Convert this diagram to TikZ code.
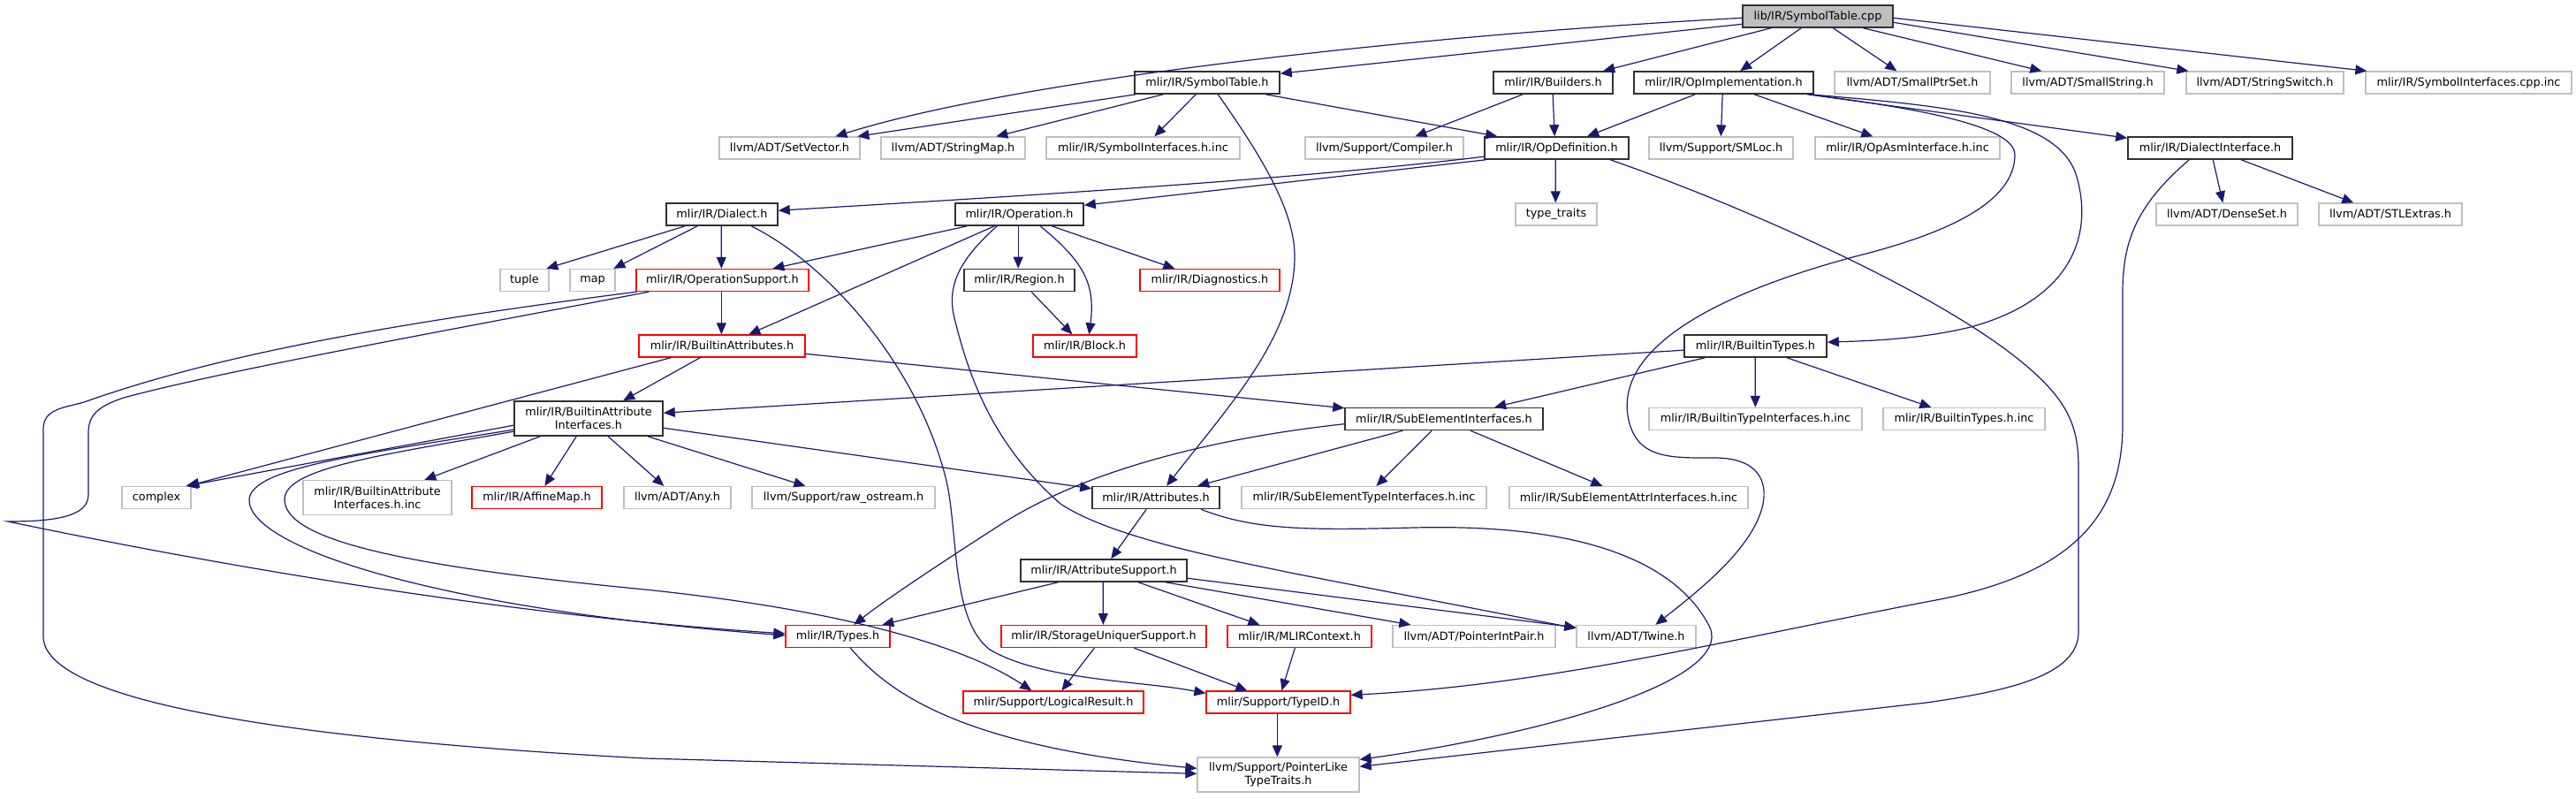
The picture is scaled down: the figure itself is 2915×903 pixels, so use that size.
\documentclass[tikz,border=0pt]{standalone}
\usepackage{fontspec}
\setmainfont{DejaVu Sans}
\usetikzlibrary{arrows.meta}
\definecolor{edgec}{HTML}{191970}
\definecolor{extc}{HTML}{BFBFBF}
\definecolor{docc}{HTML}{303030}
\definecolor{truncc}{HTML}{FF0000}
\begin{document}
\begin{tikzpicture}[x=1pt,y=-1pt,
  font=\fontsize{12.8}{15}\selectfont,
  box/.style={inner sep=0pt, align=center, text=black, minimum height=25pt},
  doc/.style={box, draw=docc, line width=1.6pt},
  ext/.style={box, draw=extc, line width=1.3pt},
  trunc/.style={box, draw=truncc, line width=1.3pt},
  rootnode/.style={box, draw=docc, line width=1.4pt, fill=extc},
  tall/.style={minimum height=39pt},
  e/.style={draw=edgec, line width=1.2pt, -{Triangle[length=13pt,width=11pt]}, fill=none}]
\useasboundingbox (0,0) rectangle (2915,903);
% row 0
\node[rootnode, minimum width=170pt] (root) at (2057,18.5) {lib/IR/SymbolTable.cpp};
% row 1
\node[doc, minimum width=164pt] (sth) at (1366,93.5) {mlir/IR/SymbolTable.h};
\node[doc, minimum width=135pt] (bld) at (1757.5,93.5) {mlir/IR/Builders.h};
\node[doc, minimum width=203pt] (opi) at (1950.5,93.5) {mlir/IR/OpImplementation.h};
\node[ext, minimum width=176pt] (sps) at (2164,93.5) {llvm/ADT/SmallPtrSet.h};
\node[ext, minimum width=173pt] (sst) at (2362.5,93.5) {llvm/ADT/SmallString.h};
\node[ext, minimum width=178pt] (ssw) at (2563,93.5) {llvm/ADT/StringSwitch.h};
\node[ext, minimum width=233pt] (sic) at (2793.5,93.5) {mlir/IR/SymbolInterfaces.cpp.inc};
% row 2
\node[ext, minimum width=159pt] (setv) at (893.5,167.5) {llvm/ADT/SetVector.h};
\node[ext, minimum width=163pt] (smap) at (1078.5,167.5) {llvm/ADT/StringMap.h};
\node[ext, minimum width=219pt] (sihi) at (1293.5,167.5) {mlir/IR/SymbolInterfaces.h.inc};
\node[ext, minimum width=179pt] (comp) at (1566.5,167.5) {llvm/Support/Compiler.h};
\node[doc, minimum width=163pt] (opd) at (1761.5,167.5) {mlir/IR/OpDefinition.h};
\node[ext, minimum width=163pt] (smloc) at (1947.5,167.5) {llvm/Support/SMLoc.h};
\node[ext, minimum width=209pt] (oai) at (2158.5,167.5) {mlir/IR/OpAsmInterface.h.inc};
\node[doc, minimum width=186pt] (dif) at (2501,167.5) {mlir/IR/DialectInterface.h};
% row 3
\node[doc, minimum width=126pt] (dia) at (817,242.5) {mlir/IR/Dialect.h};
\node[doc, minimum width=145pt] (op) at (1153.5,242.5) {mlir/IR/Operation.h};
\node[ext, minimum width=92pt] (tt) at (1761,242.5) {type\_traits};
\node[ext, minimum width=160pt] (dset) at (2520,242.5) {llvm/ADT/DenseSet.h};
\node[ext, minimum width=162pt] (stl) at (2705,242.5) {llvm/ADT/STLExtras.h};
% row 4
\node[ext, minimum width=55pt] (tup) at (593.5,317) {tuple};
\node[ext, minimum width=51pt] (map) at (670.5,317) {map};
\node[trunc, minimum width=195pt] (ops) at (817.5,317) {mlir/IR/OperationSupport.h};
\node[doc, minimum width=125pt] (reg) at (1153.5,317) {mlir/IR/Region.h};
\node[trunc, minimum width=158pt] (diag) at (1369,317) {mlir/IR/Diagnostics.h};
% row 5
\node[trunc, minimum width=188pt] (ba) at (817,391.5) {mlir/IR/BuiltinAttributes.h};
\node[trunc, minimum width=117pt] (blk) at (1227.5,391.5) {mlir/IR/Block.h};
\node[doc, minimum width=161pt] (bt) at (1986.5,391.5) {mlir/IR/BuiltinTypes.h};
% row 6
\node[doc, tall, minimum width=168pt] (bai) at (666,473.5) {mlir/IR/BuiltinAttribute\\Interfaces.h};
\node[doc, minimum width=224pt] (sei) at (1634,474) {mlir/IR/SubElementInterfaces.h};
\node[ext, minimum width=241pt] (btii) at (1986.5,474) {mlir/IR/BuiltinTypeInterfaces.h.inc};
\node[ext, minimum width=183pt] (bti) at (2222.5,474) {mlir/IR/BuiltinTypes.h.inc};
% row 7
\node[ext, minimum width=78pt] (cplx) at (177,563) {complex};
\node[ext, tall, minimum width=168pt] (baii) at (427,563) {mlir/IR/BuiltinAttribute\\Interfaces.h.inc};
\node[trunc, minimum width=147pt] (amap) at (607.5,563) {mlir/IR/AffineMap.h};
\node[ext, minimum width=121pt] (any) at (766.5,563) {llvm/ADT/Any.h};
\node[ext, minimum width=207pt] (rawo) at (954.5,563) {llvm/Support/raw\_ostream.h};
\node[doc, minimum width=144pt] (attr) at (1308,563) {mlir/IR/Attributes.h};
\node[ext, minimum width=277pt] (seti) at (1543.5,563) {mlir/IR/SubElementTypeInterfaces.h.inc};
\node[ext, minimum width=270pt] (seai) at (1843,563) {mlir/IR/SubElementAttrInterfaces.h.inc};
% row 8
\node[doc, minimum width=188pt] (as) at (1249,645.5) {mlir/IR/AttributeSupport.h};
% row 9
\node[trunc, minimum width=118pt] (types) at (948,720) {mlir/IR/Types.h};
\node[trunc, minimum width=232pt] (sus) at (1249,720) {mlir/IR/StorageUniquerSupport.h};
\node[trunc, minimum width=163pt] (ctx) at (1470.5,720) {mlir/IR/MLIRContext.h};
\node[ext, minimum width=184pt] (pip) at (1668,720) {llvm/ADT/PointerIntPair.h};
\node[ext, minimum width=135pt] (twine) at (1851.5,720) {llvm/ADT/Twine.h};
% row 10
\node[trunc, minimum width=204pt] (lr) at (1192,794.5) {mlir/Support/LogicalResult.h};
\node[trunc, minimum width=163pt] (tid) at (1446.5,794.5) {mlir/Support/TypeID.h};
% row 11
\node[ext, tall, minimum width=183pt] (plt) at (1446.5,876.5) {llvm/Support/PointerLike\\TypeTraits.h};

% ---- edges from root
\draw[e] ([yshift=-15pt]root.north west) .. controls (1600,40) and (1150,90) .. ([xshift=132pt]setv.north west);
\draw[e] ([yshift=-22pt]root.north west) -- ([yshift=-3pt]sth.north east);
\draw[e] ([xshift=33pt]root.south west) -- ([xshift=125pt]bld.north west);
\draw[e] ([xshift=67pt]root.south west) -- ([xshift=121pt]opi.north west);
\draw[e] ([xshift=103pt]root.south west) -- ([xshift=71pt]sps.north west);
\draw[e] ([xshift=137pt]root.south west) -- ([xshift=35pt]sst.north west);
\draw[e] ([yshift=-20pt]root.north east) -- ([xshift=3pt]ssw.north west);
\draw[e] ([yshift=-15pt]root.north east) -- ([xshift=2pt]sic.north west);
% ---- SymbolTable.h
\draw[e] ([xshift=2pt]sth.south west) -- ([xshift=157pt]setv.north west);
\draw[e] ([xshift=33pt]sth.south west) -- ([xshift=131pt]smap.north west);
\draw[e] ([xshift=70pt]sth.south west) -- ([xshift=123pt]sihi.north west);
\draw[e] ([xshift=149pt]sth.south west) -- ([xshift=15pt]opd.north west);
\draw[e] ([xshift=95pt]sth.south west) .. controls (1430,180) and (1465,240) .. (1465,290) .. controls (1465,380) and (1390,460) .. ([xshift=85pt]attr.north west);
% ---- Builders.h
\draw[e] ([xshift=34pt]bld.south west) -- ([xshift=125pt]comp.north west);
\draw[e] ([xshift=68pt]bld.south west) -- ([xshift=80pt]opd.north west);
% ---- OpImplementation.h
\draw[e] ([xshift=70pt]opi.south west) -- ([xshift=117pt]opd.north west);
\draw[e] ([xshift=101pt]opi.south west) -- ([xshift=82pt]smloc.north west);
\draw[e] ([xshift=137pt]opi.south west) -- ([xshift=66pt]oai.north west);
\draw[e] ([xshift=197pt]opi.south west) -- ([yshift=-2pt]dif.north west);
\draw[e] ([xshift=200pt]opi.south west) .. controls (2200,120) and (2330,130) .. (2350,200) .. controls (2370,270) and (2340,340) .. (2230,370) .. controls (2170,385) and (2100,386) .. ([yshift=-9pt]bt.north east);
\draw[e] ([xshift=199pt]opi.south west) .. controls (2150,120) and (2280,140) .. (2280,175) .. controls (2280,230) and (2200,265) .. (2100,290) .. controls (1950,330) and (1830,390) .. (1842,470) .. controls (1850,520) and (1890,518) .. (1940,518) .. controls (1990,518) and (2000,545) .. (1995,570) .. controls (1985,620) and (1920,670) .. ([xshift=90pt]twine.north west);
% ---- OpDefinition.h
\draw[e] ([yshift=-23pt]opd.north west) .. controls (1450,205) and (1100,225) .. ([yshift=-9pt]dia.north east);
\draw[e] ([xshift=2pt]opd.south west) -- ([yshift=-3pt]op.north east);
\draw[e] ([xshift=81pt]opd.south west) -- ([xshift=46pt]tt.north west);
\draw[e] ([xshift=143pt]opd.south west) .. controls (1950,225) and (2200,330) .. (2300,420) .. controls (2345,460) and (2352,490) .. (2352,530) -- (2352,715) .. controls (2352,765) and (2270,782) .. (2180,795) -- ([yshift=-11pt]plt.north east);
% ---- DialectInterface.h
\draw[e] ([xshift=97pt]dif.south west) -- ([xshift=76pt]dset.north west);
\draw[e] ([xshift=129pt]dif.south west) -- ([xshift=40pt]stl.north west);
\draw[e] ([xshift=70pt]dif.south west) .. controls (2420,230) and (2402,270) .. (2402,330) -- (2402,480) .. controls (2402,580) and (2350,650) .. (2185,680) .. controls (1950,725) and (1750,775) .. ([yshift=-5pt]tid.north east);
% ---- Dialect.h
\draw[e] ([xshift=22pt]dia.south west) -- ([xshift=53pt]tup.north west);
\draw[e] ([xshift=36pt]dia.south west) -- ([xshift=50pt]map.north west);
\draw[e] ([xshift=63pt]dia.south west) -- ([xshift=97pt]ops.north west);
\draw[e] ([xshift=97pt]dia.south west) .. controls (930,295) and (1035,405) .. (1070,540) .. controls (1085,600) and (1075,700) .. (1120,735) .. controls (1180,770) and (1290,770) .. ([yshift=-3pt]tid.north west);
% ---- Operation.h
\draw[e] ([xshift=14pt]op.south west) -- ([xshift=155pt]ops.north west);
\draw[e] ([xshift=45pt]op.south west) -- ([xshift=125pt]ba.north west);
\draw[e] ([xshift=48pt]op.south west) .. controls (1090,290) and (1070,320) .. (1080,360) .. controls (1095,420) and (1120,500) .. (1200,570) .. controls (1260,610) and (1400,635) .. (1460,648) -- ([yshift=-4pt]twine.north west);
\draw[e] ([xshift=72pt]op.south west) -- ([xshift=62pt]reg.north west);
\draw[e] ([xshift=97pt]op.south west) .. controls (1225,295) and (1240,320) .. ([xshift=64pt]blk.north west);
\draw[e] ([xshift=110pt]op.south west) -- ([xshift=40pt]diag.north west);
% ---- Region.h
\draw[e] ([xshift=77pt]reg.south west) -- ([xshift=45pt]blk.north west);
% ---- OperationSupport.h
\draw[e] ([xshift=97pt]ops.south west) -- ([xshift=94pt]ba.north west);
\draw[e] ([xshift=1pt]ops.south west) .. controls (450,365) and (250,400) .. (95,455) .. controls (75,461) and (49,462) .. (49,485) -- (49,720) .. controls (49,790) and (300,835) .. (730,858) -- ([yshift=-19pt]plt.north west);
\draw[e] ([xshift=15pt]ops.south west) .. controls (500,375) and (250,420) .. (140,450) .. controls (110,460) and (100,470) .. (100,490) -- (100,560) .. controls (100,585) and (60,590) .. (9,590) .. controls (200,630) and (550,695) .. ([yshift=-10pt]types.north west);
% ---- BuiltinAttributeInterfaces.h
\draw[e] ([yshift=-28pt]bai.north west) -- ([xshift=73pt]cplx.north west);
\draw[e] ([xshift=30pt]bai.south west) -- ([xshift=138pt]baii.north west);
\draw[e] ([xshift=71pt]bai.south west) -- ([xshift=83pt]amap.north west);
\draw[e] ([xshift=107pt]bai.south west) -- ([xshift=46pt]any.north west);
\draw[e] ([xshift=152pt]bai.south west) -- ([xshift=61pt]rawo.north west);
\draw[e] ([yshift=-31pt]bai.north east) -- ([yshift=-3pt]attr.north west);
\draw[e] ([yshift=-33pt]bai.north west) .. controls (400,515) and (285,530) .. (282,565) .. controls (280,620) and (500,690) .. ([yshift=-12pt]types.north west);
\draw[e] ([yshift=-35pt]bai.north west) .. controls (430,515) and (322,530) .. (322,565) .. controls (322,610) and (450,640) .. (730,667) .. controls (950,690) and (1090,730) .. ([xshift=78pt]lr.north west);
% ---- BuiltinAttributes.h
\draw[e] ([xshift=70pt]ba.south west) -- ([xshift=124pt]bai.north west);
\draw[e] ([xshift=37pt]ba.south west) -- ([xshift=75pt]cplx.north west);
\draw[e] ([yshift=-22pt]ba.north east) -- ([yshift=-1pt]sei.north west);
% ---- BuiltinTypes.h
\draw[e] ([yshift=-18pt]bt.north west) -- ([yshift=-14pt]bai.north east);
\draw[e] ([xshift=24pt]bt.south west) -- ([xshift=170pt]sei.north west);
\draw[e] ([xshift=81pt]bt.south west) -- ([xshift=121pt]btii.north west);
\draw[e] ([xshift=117pt]bt.south west) -- ([xshift=55pt]bti.north west);
% ---- SubElementInterfaces.h
\draw[e] ([xshift=66pt]sei.south west) -- ([xshift=120pt]attr.north west);
\draw[e] ([yshift=-19pt]sei.north west) .. controls (1380,495) and (1230,530) .. (1130,595) .. controls (1060,640) and (1000,680) .. ([xshift=78pt]types.north west);
\draw[e] ([xshift=99pt]sei.south west) -- ([xshift=153pt]seti.north west);
\draw[e] ([xshift=143pt]sei.south west) -- ([xshift=106pt]seai.north west);
% ---- Attributes.h
\draw[e] ([xshift=62pt]attr.south west) -- ([xshift=103pt]as.north west);
\draw[e] ([xshift=124pt]attr.south west) .. controls (1420,600) and (1480,600) .. (1600,597) .. controls (1800,592) and (1900,640) .. (1935,710) .. controls (1960,770) and (1750,830) .. ([yshift=-3pt]plt.north east);
% ---- AttributeSupport.h
\draw[e] ([xshift=43pt]as.south west) -- ([xshift=110pt]types.north west);
\draw[e] ([xshift=94pt]as.south west) -- ([xshift=116pt]sus.north west);
\draw[e] ([xshift=134pt]as.south west) -- ([xshift=37pt]ctx.north west);
\draw[e] ([xshift=165pt]as.south west) -- ([xshift=21pt]pip.north west);
\draw[e] ([yshift=-22pt]as.north east) -- ([yshift=-3pt]twine.north west);
% ---- StorageUniquerSupport.h, MLIRContext.h
\draw[e] ([xshift=106pt]sus.south west) -- ([xshift=112pt]lr.north west);
\draw[e] ([xshift=151pt]sus.south west) -- ([xshift=47pt]tid.north west);
\draw[e] ([xshift=77pt]ctx.south west) -- ([xshift=86pt]tid.north west);
% ---- Types.h, TypeID.h
\draw[e] ([xshift=74pt]types.south west) .. controls (1010,790) and (1100,845) .. ([yshift=-13pt]plt.north west);
\draw[e] ([xshift=81pt]tid.south west) -- ([xshift=91pt]plt.north west);
\end{tikzpicture}
\end{document}
